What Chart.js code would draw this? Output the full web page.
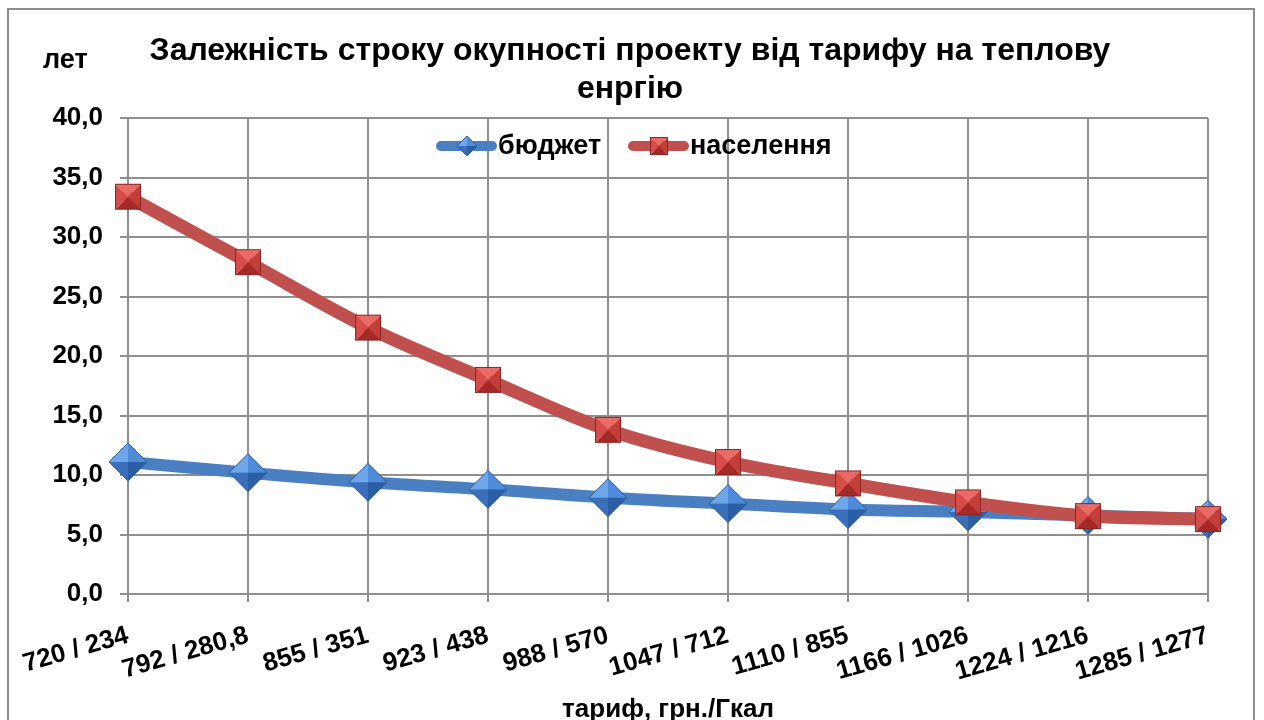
<!DOCTYPE html>
<html>
<head>
<meta charset="utf-8">
<script src="https://cdn.jsdelivr.net/npm/chart.js@4.4.1/dist/chart.umd.min.js"></script>
<style>
  html, body { margin: 0; padding: 0; background: #ffffff; }
  #wrap { width: 1264px; height: 720px; }
</style>
</head>
<body>
<div id="wrap"><canvas id="line-chart" width="1264" height="720"></canvas></div>
<script>
//Chart data
var labels = ["720 / 234", "792 / 280,8", "855 / 351", "923 / 438", "988 / 570",
              "1047 / 712", "1110 / 855", "1166 / 1026", "1224 / 1216", "1285 / 1277"];
var budget_data = [11.1, 10.2, 9.4, 8.8, 8.1, 7.6, 7.1, 6.9, 6.6, 6.3];
var people_data = [33.4, 27.9, 22.4, 18.0, 13.8, 11.1, 9.3, 7.7, 6.55, 6.3];
var series_names = ["бюджет", "населення"];
var title_lines = ["Залежність строку окупності проекту від тарифу на теплову", "енргію"];
var y_title = "лет";
var x_title = "тариф, грн./Гкал";

var font_family = "'Liberation Sans', Arial, sans-serif";
var grid_color = "#8f8f8f";

//Pyramid style markers
function make_diamond(r){
    var c = document.createElement("canvas");
    c.width = 2 * r + 2;
    c.height = 2 * r + 2;
    var ctx = c.getContext("2d");
    var m = r + 1;
    var faces = [
        [[m - r, m], [m, m - r], "#6ea6ea"],
        [[m, m - r], [m + r, m], "#4e8bd9"],
        [[m + r, m], [m, m + r], "#2b5ea4"],
        [[m, m + r], [m - r, m], "#3a70bb"]
    ];
    faces.forEach(function(f){
        ctx.beginPath();
        ctx.moveTo(f[0][0], f[0][1]);
        ctx.lineTo(f[1][0], f[1][1]);
        ctx.lineTo(m, m);
        ctx.closePath();
        ctx.fillStyle = f[2];
        ctx.fill();
    });
    ctx.beginPath();
    ctx.moveTo(m - r, m);
    ctx.lineTo(m, m - r);
    ctx.lineTo(m + r, m);
    ctx.lineTo(m, m + r);
    ctx.closePath();
    ctx.strokeStyle = "#2d5c9a";
    ctx.lineWidth = 1;
    ctx.stroke();
    return c;
}

function make_square(s){
    var c = document.createElement("canvas");
    c.width = s + 2;
    c.height = s + 2;
    var ctx = c.getContext("2d");
    var a = 1, b = s + 1, m = s / 2 + 1;
    var faces = [
        [[a, a], [b, a], "#ea6b66"],
        [[b, a], [b, b], "#c33d39"],
        [[b, b], [a, b], "#a52a27"],
        [[a, b], [a, a], "#d54c48"]
    ];
    faces.forEach(function(f){
        ctx.beginPath();
        ctx.moveTo(f[0][0], f[0][1]);
        ctx.lineTo(f[1][0], f[1][1]);
        ctx.lineTo(m, m);
        ctx.closePath();
        ctx.fillStyle = f[2];
        ctx.fill();
    });
    ctx.strokeStyle = "#8e2522";
    ctx.lineWidth = 1;
    ctx.strokeRect(a + 0.5, a + 0.5, s - 1, s - 1);
    return c;
}

var diamond_big = make_diamond(19);
var square_big = make_square(26);
var diamond_small = make_diamond(10);
var square_small = make_square(18);

//Frame, "лет" label and legend
var extras_plugin = {
    id: "extras",
    beforeDraw: function(chart){
        var ctx = chart.ctx;
        ctx.save();
        ctx.fillStyle = "#ffffff";
        ctx.fillRect(0, 0, chart.width, chart.height);
        ctx.restore();
    },
    afterDraw: function(chart){
        var ctx = chart.ctx;
        ctx.save();
        ctx.strokeStyle = "#8c8c8c";
        ctx.lineWidth = 2;
        ctx.strokeRect(8, 9, 1246, 760);

        ctx.fillStyle = "#000000";
        ctx.font = "bold 27px " + font_family;
        ctx.textAlign = "left";
        ctx.textBaseline = "middle";
        ctx.fillText(y_title, 43, 61);

        //legend
        var items = [
            {x: 436, color: "#4a7fc1", img: diamond_small, text: series_names[0]},
            {x: 628, color: "#c0504d", img: square_small, text: series_names[1]}
        ];
        var ly = 146;
        ctx.font = "bold 27px " + font_family;
        items.forEach(function(it){
            ctx.beginPath();
            ctx.moveTo(it.x + 5, ly);
            ctx.lineTo(it.x + 56, ly);
            ctx.strokeStyle = it.color;
            ctx.lineWidth = 10;
            ctx.lineCap = "round";
            ctx.stroke();
            ctx.drawImage(it.img, it.x + 31 - it.img.width / 2, ly - it.img.height / 2);
            ctx.fillStyle = "#000000";
            ctx.fillText(it.text, it.x + 62, ly + 1);
        });
        ctx.restore();
    }
};

function fmt(v){
    return v.toFixed(1).replace(".", ",");
}

new Chart(document.getElementById("line-chart"), {
    type: "line",
    data: {
        labels: labels,
        datasets: [{
            label: series_names[0],
            data: budget_data,
            borderColor: "#4a7fc1",
            borderWidth: 12,
            borderCapStyle: "round",
            borderJoinStyle: "round",
            tension: 0.35,
            pointStyle: diamond_big,
            pointRadius: 19,
            order: 2,
            clip: false
        }, {
            label: series_names[1],
            data: people_data,
            borderColor: "#c0504d",
            borderWidth: 13,
            borderCapStyle: "round",
            borderJoinStyle: "round",
            tension: 0.35,
            pointStyle: square_big,
            pointRadius: 18,
            order: 1,
            clip: false
        }]
    },
    options: {
        responsive: false,
        animation: false,
        events: [],
        layout: {
            padding: {left: 0, right: 4, top: 0, bottom: 0}
        },
        plugins: {
            legend: {display: false},
            tooltip: {enabled: false},
            title: {
                display: true,
                text: title_lines,
                color: "#000000",
                font: {family: font_family, size: 32, weight: "bold", lineHeight: 1.16},
                padding: {top: 33, bottom: 11}
            }
        },
        scales: {
            x: {
                offset: false,
                grid: {color: grid_color, lineWidth: 2, tickLength: 8},
                border: {color: grid_color, width: 2},
                ticks: {
                    color: "#000000",
                    font: {family: font_family, size: 26, weight: "bold"},
                    maxRotation: 16,
                    minRotation: 16,
                    padding: 18,
                    autoSkip: false
                },
                title: {
                    display: true,
                    text: x_title,
                    color: "#000000",
                    font: {family: font_family, size: 26, weight: "bold", lineHeight: 0.8},
                    padding: {top: 0, bottom: 0}
                },
                afterFit: function(scale){
                    scale.height = 126;
                }
            },
            y: {
                min: 0,
                max: 40,
                grid: {color: grid_color, lineWidth: 2, tickLength: 8},
                border: {color: grid_color, width: 2},
                ticks: {
                    stepSize: 5,
                    color: "#000000",
                    font: {family: font_family, size: 26, weight: "bold"},
                    padding: 17,
                    callback: function(v){ return fmt(v); }
                },
                afterFit: function(scale){
                    scale.width = 128;
                }
            },
            //empty space on the right, keeps title centred on the frame
            y_right: {
                position: "right",
                min: 0,
                max: 40,
                grid: {display: false, drawOnChartArea: false},
                border: {display: false},
                ticks: {display: false},
                afterFit: function(scale){
                    scale.width = 52;
                }
            }
        }
    },
    plugins: [extras_plugin]
});
</script>
</body>
</html>
